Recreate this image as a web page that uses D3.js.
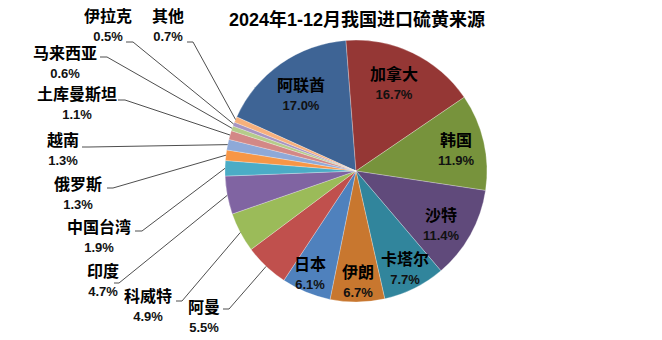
<!DOCTYPE html>
<html><head><meta charset="utf-8">
<script src="https://cdn.jsdelivr.net/npm/d3@7"></script>
<style>
html,body{margin:0;padding:0;background:#fff;}
svg{display:block;}
</style></head>
<body>
<svg id="chart" width="662" height="340"></svg>
<script>
const title = "2024年1-12月我国进口硫黄来源";
const categories = ["阿联酋","加拿大","韩国","沙特","卡塔尔","伊朗","日本","阿曼","科威特","印度","中国台湾","俄罗斯","越南","土库曼斯坦","马来西亚","伊拉克","其他"];
const shares = [17.0,16.7,11.9,11.4,7.7,6.7,6.1,5.5,4.9,4.7,1.9,1.3,1.3,1.1,0.6,0.5,0.7];
const colors = ["#3E6495","#953735","#77933C","#604A7B","#31859C","#C8772F","#4F81BD","#C0504D","#9BBB59","#8064A2","#4BACC6","#F79646","#8EA9D8","#D38886","#B5CC8A","#A794C2","#F7B07C"];

// label layout (block centre) and leader-line knee for outside labels
const labelLayout = {
  "阿联酋":[301,84], "加拿大":[394,73], "韩国":[456,139], "沙特":[441,214],
  "卡塔尔":[405,258], "伊朗":[358,271], "日本":[310,263],
  "阿曼":[204,306], "科威特":[148,295], "印度":[103,270], "中国台湾":[99,226],
  "俄罗斯":[78,183], "越南":[63,139], "土库曼斯坦":[77,93], "马来西亚":[65,52],
  "伊拉克":[108,15], "其他":[168,15]
};
const leaderKnee = {
  "阿曼":[[223,309],[229,309]], "科威特":[[176,301],[182,301]], "印度":[[114,283],[119,283]],
  "中国台湾":[[135,231],[142,231]], "俄罗斯":[[107,188],[113,188]], "越南":[[82,147],[89,147]],
  "土库曼斯坦":[[118,100],[125,100]], "马来西亚":[[100,57],[107,57]],
  "伊拉克":[[126,42],[133,42]], "其他":[[187,42],[193,42]]
};

const W = 662, H = 340;
const cx = 356, cy = 171, R = 131;
const rad = d => d * Math.PI / 180;
const start = rad(-65.6);

const svg = d3.select("#chart");
const data = categories.map((c, i) => ({name: c, value: shares[i], color: colors[i]}));

const pie = d3.pie().sort(null).value(d => d.value).startAngle(start).endAngle(start + 2 * Math.PI);
const arcs = pie(data);
const arc = d3.arc().innerRadius(0).outerRadius(R);
const edgeArc = d3.arc().innerRadius(R).outerRadius(R);

const g = svg.append("g").attr("transform", `translate(${cx},${cy})`);
g.selectAll("path.slice").data(arcs).join("path")
  .attr("class", "slice")
  .attr("d", arc)
  .attr("fill", d => d.data.color)
  .attr("stroke", "#ffffff")
  .attr("stroke-opacity", 0.45)
  .attr("stroke-width", 0.6);

// leader lines
const line = d3.line();
arcs.forEach(a => {
  const knee = leaderKnee[a.data.name];
  if (!knee) return;
  const [ex, ey] = edgeArc.centroid(a);
  svg.append("path")
    .attr("d", line([knee[0], knee[1], [cx + ex, cy + ey]]))
    .attr("fill", "none")
    .attr("stroke", "#3a3a3a")
    .attr("stroke-width", 0.9);
});

// labels
const fmt = d3.format(".1f");
arcs.forEach(a => {
  const [lx, ly] = labelLayout[a.data.name];
  svg.append("text")
    .attr("x", lx).attr("y", ly)
    .attr("text-anchor", "middle")
    .attr("dominant-baseline", "central")
    .attr("font-family", "'Noto Sans CJK SC', sans-serif")
    .attr("font-weight", "bold")
    .attr("font-size", 16)
    .attr("fill", "#000")
    .text(a.data.name);
  svg.append("text")
    .attr("x", lx).attr("y", ly + 21)
    .attr("text-anchor", "middle")
    .attr("dominant-baseline", "central")
    .attr("font-family", "'Liberation Sans', Arial, sans-serif")
    .attr("font-weight", "bold")
    .attr("font-size", 13)
    .attr("fill", "#111")
    .text(fmt(a.data.value) + "%");
});

svg.append("text")
  .attr("x", 357).attr("y", 20)
  .attr("text-anchor", "middle")
  .attr("dominant-baseline", "central")
  .attr("font-family", "'Liberation Sans', 'Noto Sans CJK SC', sans-serif")
  .attr("font-weight", "bold")
  .attr("font-size", 18)
  .attr("fill", "#000")
  .text(title);
</script>
</body></html>
